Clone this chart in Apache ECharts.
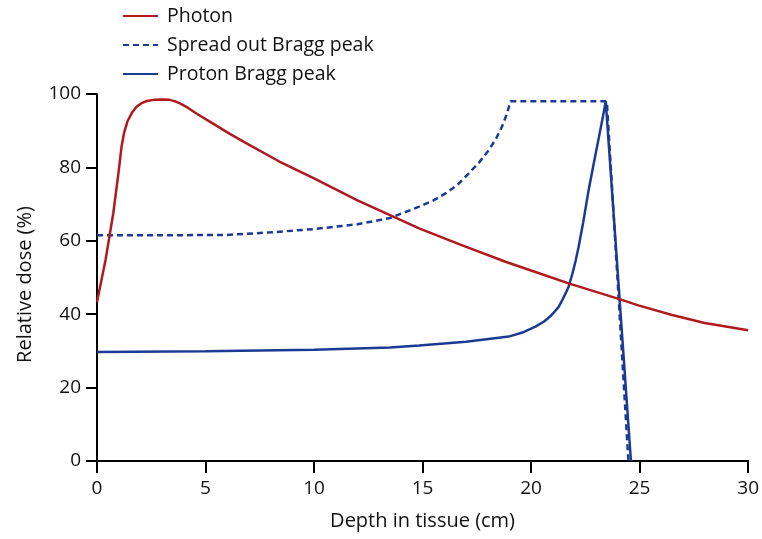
<!DOCTYPE html>
<html><head><meta charset="utf-8">
<script src="https://cdn.jsdelivr.net/npm/echarts@6/dist/echarts.min.js"></script>
<style>html,body{margin:0;padding:0;background:#fff}#c{width:762px;height:539px}</style>
</head><body><div id="c"></div>
<script>
var seriesNames = ['Photon', 'Spread out Bragg peak', 'Proton Bragg peak'];
var xTicks = [0, 5, 10, 15, 20, 25, 30];
var yTicks = [0, 20, 40, 60, 80, 100];

var photonX = [0, 0.4, 0.75, 1.0, 1.13, 1.25, 1.4, 1.6, 1.82, 2.05, 2.3, 2.6, 3.0, 3.35, 3.6, 3.8, 4.2, 4.58, 5.33, 6.1, 6.87, 8.4, 10, 12, 13.5, 14.84, 16.8, 18.82, 20.3, 21.73, 24.18, 24.94, 26.5, 28, 30];
var photonY = [43.3, 55, 67.5, 79, 85.6, 89.5, 92.5, 94.8, 96.5, 97.5, 98.1, 98.4, 98.5, 98.4, 98.0, 97.5, 96.2, 94.7, 92, 89.2, 86.6, 81.6, 77, 71, 67, 63.4, 58.8, 54.3, 51.3, 48.4, 43.9, 42.4, 39.8, 37.6, 35.6];

var sobpX = [0, 3, 6, 8, 10, 12, 13.5, 14.84, 15.5, 16.06, 16.6, 17.13, 17.6, 18.05, 18.4, 18.66, 18.88, 19.05, 23.49, 24.48];
var sobpY = [61.5, 61.5, 61.6, 62.3, 63.2, 64.5, 66.2, 69.3, 71, 72.9, 75.2, 78.4, 81.3, 84.7, 88, 91.1, 94.5, 98, 98, 0.3];

var protonX = [0, 5, 10, 13.5, 14.84, 17, 18.97, 19.6, 20.2, 20.6, 20.9, 21.1, 21.27, 21.45, 21.6, 21.73, 21.9, 22.05, 22.19, 22.4, 22.65, 22.9, 23.1, 23.3, 23.44, 24.6];
var protonY = [29.7, 29.9, 30.3, 30.9, 31.5, 32.5, 33.9, 35, 36.6, 38, 39.5, 40.8, 42, 44, 45.8, 47.5, 51, 54.5, 58.4, 65, 73.8, 81.5, 87.5, 93.5, 98, 0];

function pairs(xs, ys) { return xs.map(function (x, i) { return [x, ys[i]]; }); }

var RED = '#b0191e', BLUE = '#1b3a94';
var FONT = 'Open Sans';
var chart = echarts.init(document.getElementById('c'), null, {renderer: 'canvas'});
chart.setOption({
  animation: false,
  backgroundColor: '#fff',
  textStyle: {fontFamily: FONT, color: '#111'},
  legend: {
    orient: 'vertical', left: 122, top: 6, padding: 0, itemWidth: 35, itemHeight: 14, itemGap: 9,
    itemStyle: {opacity: 0},
    textStyle: {fontSize: 19.5, color: '#111', fontFamily: FONT, padding: [0, 0, 0, 4]},
    data: seriesNames
  },
  grid: {left: 97, right: 12, top: 94, bottom: 78, containLabel: false},
  xAxis: {
    type: 'value', min: xTicks[0], max: xTicks[xTicks.length - 1], interval: 5,
    name: 'Depth in tissue (cm)', nameLocation: 'middle', nameGap: 50,
    nameTextStyle: {fontSize: 20, color: '#111', fontFamily: FONT},
    axisLine: {lineStyle: {color: '#000', width: 2}},
    axisTick: {show: true, length: 12, lineStyle: {color: '#000', width: 2}},
    axisLabel: {fontSize: 19, color: '#111', margin: 18, fontFamily: FONT},
    splitLine: {show: false}
  },
  yAxis: {
    type: 'value', min: yTicks[0], max: yTicks[yTicks.length - 1], interval: 20,
    name: 'Relative dose (%)', nameLocation: 'middle', nameGap: 62, nameRotate: 90,
    nameTextStyle: {fontSize: 20, color: '#111', fontFamily: FONT, padding: [0, 14, 0, 0]},
    axisLine: {show: true, lineStyle: {color: '#000', width: 2}},
    axisTick: {show: true, length: 11, lineStyle: {color: '#000', width: 2}},
    axisLabel: {fontSize: 19, color: '#111', margin: 16, fontFamily: FONT},
    splitLine: {show: false}
  },
  series: [
    {name: seriesNames[0], type: 'line', data: pairs(photonX, photonY), symbol: 'none', smooth: false,
     lineStyle: {color: RED, width: 2.5}, itemStyle: {color: RED}, z: 3},
    {name: seriesNames[1], type: 'line', data: pairs(sobpX, sobpY), symbol: 'none', smooth: false,
     lineStyle: {color: BLUE, width: 2.5, type: [6, 4]}, itemStyle: {color: BLUE}, z: 2},
    {name: seriesNames[2], type: 'line', data: pairs(protonX, protonY), symbol: 'none', smooth: false,
     lineStyle: {color: BLUE, width: 2.5}, itemStyle: {color: BLUE}, z: 2}
  ]
});
</script></body></html>
